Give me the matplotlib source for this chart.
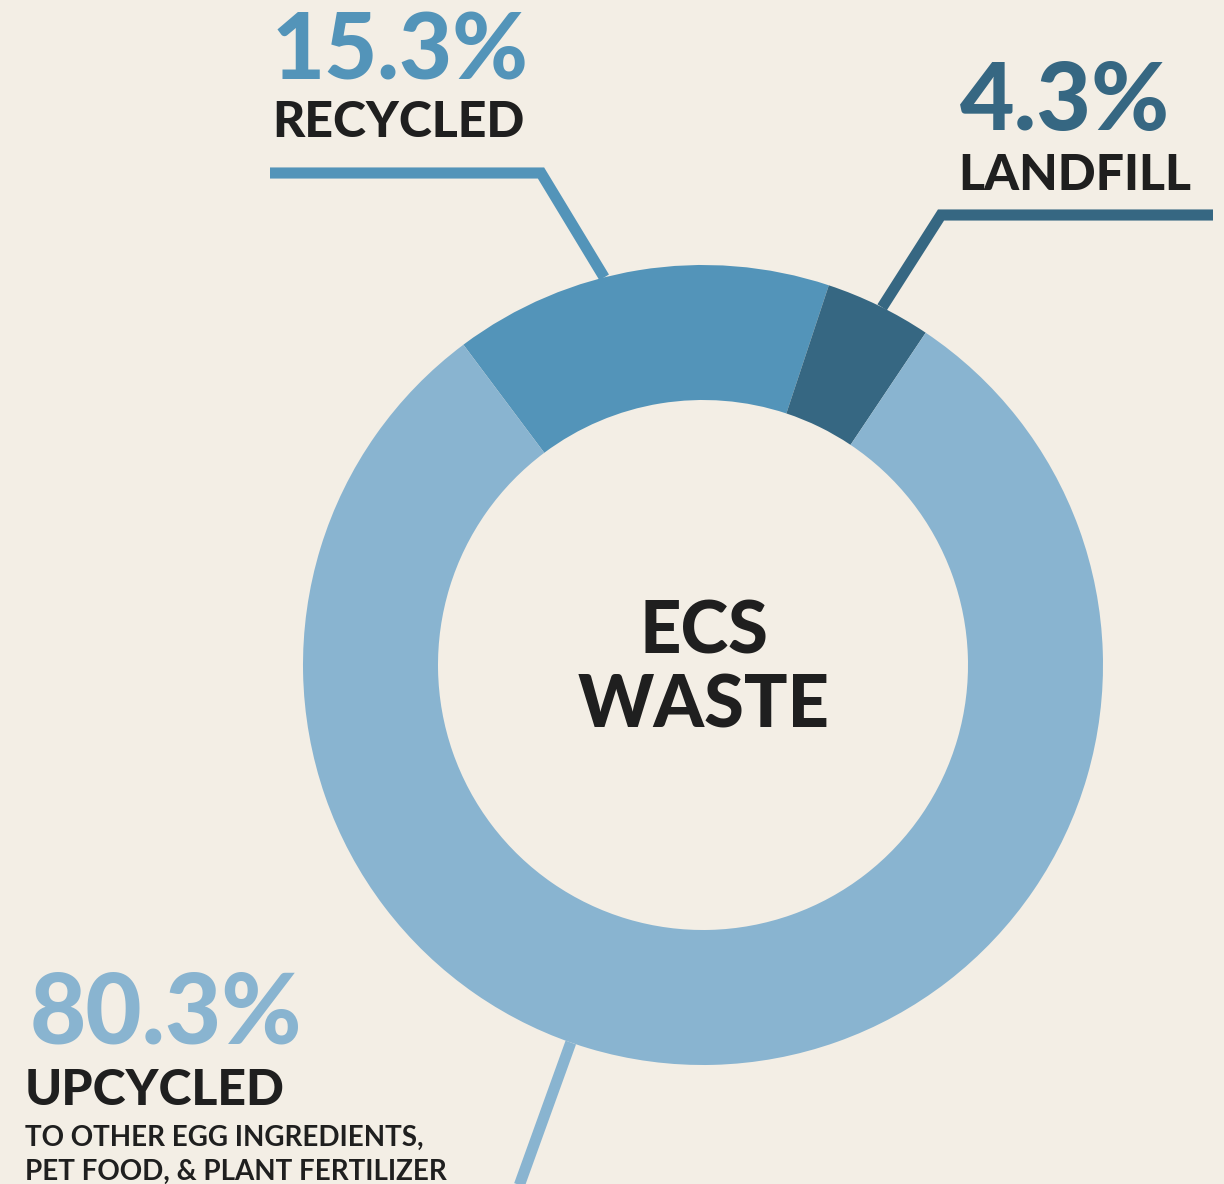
import numpy as np
import matplotlib.pyplot as plt

# ECS waste breakdown
categories = ["RECYCLED", "LANDFILL", "UPCYCLED"]
shares = [15.3, 4.3, 80.3]
pct_labels = ["15.3%", "4.3%", "80.3%"]
colors = ["#5394b9", "#366782", "#89b4d0"]
sub_note = ["TO OTHER EGG INGREDIENTS,", "PET FOOD, & PLANT FERTILIZER"]

BG = "#f3eee5"
INK = "#1f1f1f"
W, H = 1224, 1184
FONT = ["Lato", "DejaVu Sans"]

fig = plt.figure(figsize=(W / 100, H / 100), dpi=100, facecolor=BG)
ax = fig.add_axes([0, 0, 1, 1])
ax.set_xlim(0, W)
ax.set_ylim(0, H)
ax.set_aspect("equal")
ax.axis("off")

cx, cy = 703, H - 665
r_out, r_in = 400, 265


def py(y):
    # image rows -> data y
    return H - y


def on_ring(deg_from_top):
    a = np.radians(deg_from_top)
    return cx + r_out * np.sin(a), cy + r_out * np.cos(a)


# leader lines (drawn under the ring)
lw = 8
rx, ry = on_ring(-14.3)
ax.plot([270, 541, rx], [py(173), py(173), ry], color=colors[0], lw=lw,
        solid_joinstyle="miter", solid_capstyle="butt", zorder=1)
lx, ly = on_ring(26.6)
ax.plot([1213, 941, lx], [py(215), py(215), ly], color=colors[1], lw=lw,
        solid_joinstyle="miter", solid_capstyle="butt", zorder=1)
ux, uy = on_ring(199.3)
ax.plot([514, ux], [py(1200), uy], color=colors[2], lw=lw,
        solid_capstyle="butt", zorder=1)

ax.pie(shares, colors=colors, startangle=90 + 36.8, counterclock=False,
       radius=r_out, center=(cx, cy), frame=True,
       wedgeprops=dict(width=r_out - r_in, linewidth=0))
ax.set_xlim(0, W)
ax.set_ylim(0, H)
ax.axis("off")

# center title
ax.text(704, py(654), "ECS", ha="center", va="baseline", fontsize=52,
        fontweight="black", family=FONT, color=INK)
ax.text(704, py(728), "WASTE", ha="center", va="baseline", fontsize=52,
        fontweight="black", family=FONT, color=INK)

# labels
ax.text(272, py(80), pct_labels[0], ha="left", va="baseline", fontsize=66,
        fontweight="black", family=FONT, color=colors[0])
ax.text(272, py(137), categories[0], ha="left", va="baseline", fontsize=36,
        fontweight="black", family=FONT, color=INK)

ax.text(1170, py(130), pct_labels[1], ha="right", va="baseline", fontsize=68,
        fontweight="black", family=FONT, color=colors[1])
ax.text(1191, py(190), categories[1], ha="right", va="baseline", fontsize=36,
        fontweight="black", family=FONT, color=INK)

ax.text(30, py(1043), pct_labels[2], ha="left", va="baseline", fontsize=70,
        fontweight="black", family=FONT, color=colors[2])
ax.text(25, py(1105), categories[2], ha="left", va="baseline", fontsize=36,
        fontweight="black", family=FONT, color=INK)
ax.text(25, py(1146), sub_note[0], ha="left", va="baseline", fontsize=20,
        fontweight="bold", family=FONT, color=INK)
ax.text(25, py(1180), sub_note[1], ha="left", va="baseline", fontsize=20,
        fontweight="bold", family=FONT, color=INK)

fig.savefig("out.png", dpi=100, facecolor=BG)
